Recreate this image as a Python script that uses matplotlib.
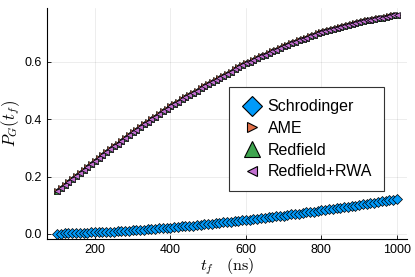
import matplotlib
matplotlib.use("Agg")
import matplotlib.pyplot as plt

plt.rcParams['font.family'] = ['Liberation Sans', 'DejaVu Sans']
plt.rcParams['mathtext.fontset'] = 'cm'

# annealing time t_f (ns)
tf = [100, 110, 120, 130, 140, 150, 160, 170, 180, 190,
      200, 210, 220, 230, 240, 250, 260, 270, 280, 290,
      300, 310, 320, 330, 340, 350, 360, 370, 380, 390,
      400, 410, 420, 430, 440, 450, 460, 470, 480, 490,
      500, 510, 520, 530, 540, 550, 560, 570, 580, 590,
      600, 610, 620, 630, 640, 650, 660, 670, 680, 690,
      700, 710, 720, 730, 740, 750, 760, 770, 780, 790,
      800, 810, 820, 830, 840, 850, 860, 870, 880, 890,
      900, 910, 920, 930, 940, 950, 960, 970, 980, 990, 1000]

# ground state population, closed system
p_schrodinger = [0.001, 0.001, 0.002, 0.002, 0.002, 0.003, 0.003, 0.004, 0.004, 0.005,
                 0.005, 0.006, 0.006, 0.007, 0.008, 0.008, 0.009, 0.010, 0.010, 0.011,
                 0.012, 0.013, 0.014, 0.015, 0.016, 0.017, 0.018, 0.019, 0.020, 0.021,
                 0.022, 0.023, 0.024, 0.026, 0.027, 0.028, 0.029, 0.030, 0.032, 0.033,
                 0.034, 0.035, 0.037, 0.038, 0.040, 0.041, 0.042, 0.044, 0.045, 0.047,
                 0.048, 0.050, 0.051, 0.053, 0.054, 0.056, 0.058, 0.059, 0.061, 0.062,
                 0.064, 0.066, 0.068, 0.069, 0.071, 0.073, 0.075, 0.077, 0.078, 0.080,
                 0.082, 0.084, 0.086, 0.088, 0.090, 0.092, 0.093, 0.095, 0.097, 0.099,
                 0.101, 0.103, 0.105, 0.107, 0.109, 0.111, 0.113, 0.115, 0.117, 0.119, 0.121]

# open system models (they lie on top of each other)
p_ame = [0.148, 0.159, 0.170, 0.180, 0.191, 0.202, 0.212, 0.223, 0.234, 0.244,
         0.255, 0.265, 0.275, 0.285, 0.295, 0.305, 0.315, 0.325, 0.335, 0.345,
         0.355, 0.364, 0.373, 0.382, 0.391, 0.400, 0.409, 0.418, 0.427, 0.436,
         0.445, 0.453, 0.461, 0.469, 0.477, 0.484, 0.492, 0.500, 0.508, 0.515,
         0.523, 0.530, 0.538, 0.545, 0.552, 0.559, 0.566, 0.574, 0.581, 0.588,
         0.595, 0.601, 0.607, 0.613, 0.619, 0.625, 0.631, 0.637, 0.643, 0.649,
         0.655, 0.660, 0.665, 0.670, 0.675, 0.680, 0.685, 0.690, 0.695, 0.700,
         0.705, 0.709, 0.712, 0.716, 0.719, 0.723, 0.726, 0.730, 0.733, 0.737,
         0.740, 0.742, 0.745, 0.747, 0.750, 0.752, 0.754, 0.757, 0.759, 0.762, 0.764]
p_redfield = list(p_ame)
p_rwa = list(p_ame)

fig = plt.figure(figsize=(4.15, 2.77), dpi=100)
ax = fig.add_axes([0.113, 0.136, 0.868, 0.835])

ms = 4.6
ax.plot(tf, p_schrodinger, 'D', ms=ms, mfc='#009AFA', mec='black', mew=0.5, label='Schrodinger')
ax.plot(tf, p_ame, '>', ms=ms - 0.6, mfc='#E36F47', mec='black', mew=0.5, label='AME')
ax.plot(tf, p_redfield, '^', ms=ms, mfc='#3EA44E', mec='black', mew=0.5, label='Redfield')
ax.plot(tf, p_rwa, '<', ms=ms, mfc='#C371D2', mec='black', mew=0.5, label='Redfield+RWA')

ax.set_xlim(73, 1027)
ax.set_ylim(-0.019, 0.788)
ax.set_xticks([200, 400, 600, 800, 1000])
ax.set_yticks([0.0, 0.2, 0.4, 0.6])
ax.set_yticklabels(['0.0', '0.2', '0.4', '0.6'])
ax.tick_params(direction='in', length=3, width=0.6, labelsize=9, colors='black')
ax.grid(True, color='black', alpha=0.1, linewidth=0.5)
ax.spines['top'].set_visible(False)
ax.spines['right'].set_visible(False)
for s in ['left', 'bottom']:
    ax.spines[s].set_linewidth(0.8)

ax.set_xlabel(r'$t_f \quad (\mathrm{ns})$', fontsize=11.5, labelpad=0)
ax.set_ylabel(r'$P_G(t_f)$', fontsize=12, labelpad=2)

leg = ax.legend(loc='upper left', bbox_to_anchor=(0.506, 0.658), borderaxespad=0,
                fontsize=11.5, fancybox=False, framealpha=1, edgecolor='#333333',
                handletextpad=0.35, handlelength=1.3, borderpad=0.75, labelspacing=0.42)
leg.get_frame().set_linewidth(0.8)
sizes = [10.5, 7, 11.5, 7]
for h, s in zip(leg.legend_handles, sizes):
    h.set_markersize(s)
    h.set_markeredgewidth(0.8)

fig.savefig('out.png', dpi=100)
